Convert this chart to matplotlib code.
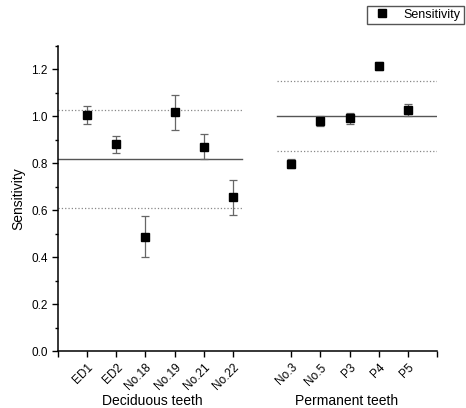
import numpy as np
import matplotlib.pyplot as plt
from matplotlib.ticker import MultipleLocator

# data
dec_labels = ['ED1', 'ED2', 'No.18', 'No.19', 'No.21', 'No.22']
dec_vals = [1.005, 0.880, 0.486, 1.016, 0.870, 0.655]
dec_err = [0.038, 0.035, 0.087, 0.075, 0.054, 0.075]

perm_labels = ['No.3', 'No.5', 'P3', 'P4', 'P5']
perm_vals = [0.798, 0.978, 0.991, 1.214, 1.026]
perm_err = [0.019, 0.022, 0.024, 0.018, 0.024]

dec_x = np.arange(1, 7)
perm_x = np.arange(8, 13)

plt.rcParams['font.family'] = ['Liberation Sans', 'DejaVu Sans']

fig = plt.figure(figsize=(4.66, 4.08), dpi=100)
ax = fig.add_axes([0.1245, 0.1397, 0.8133, 0.7483])

x_all = np.concatenate([dec_x, perm_x])
v_all = dec_vals + perm_vals
e_all = dec_err + perm_err
ax.errorbar(x_all, v_all, yerr=e_all, fmt='none', ecolor='#666666',
            elinewidth=0.9, capsize=3, capthick=0.9, zorder=2)
pts, = ax.plot(x_all, v_all, 's', color='black', markersize=6,
               linestyle='none', zorder=3, label='Sensitivity')

# mean and mean +/- SD per group
for vals, x0, x1 in [(dec_vals, 0, 6.3), (perm_vals, 7.5, 13)]:
    m = np.mean(vals)
    sd = np.std(vals, ddof=1)
    ax.plot([x0, x1], [m, m], color='#555555', lw=1, zorder=1)
    ax.plot([x0, x1], [m + sd, m + sd], color='#888888', lw=0.9, ls=':', zorder=1)
    ax.plot([x0, x1], [m - sd, m - sd], color='#888888', lw=0.9, ls=':', zorder=1)

ax.set_xlim(0, 13)
ax.set_ylim(0, 1.3)
ax.set_xticks(list(range(0, 7)) + list(range(8, 14)))
ax.set_xticklabels([''] + dec_labels + perm_labels + [''], rotation=45,
                   ha='right', va='top', rotation_mode='anchor', fontsize=8.5)
ax.set_yticks(np.arange(0, 1.21, 0.2))
ax.set_yticklabels(['%.1f' % v for v in np.arange(0, 1.21, 0.2)], fontsize=8.5)
ax.yaxis.set_minor_locator(MultipleLocator(0.1))
ax.tick_params(direction='out', length=4, width=1)
ax.tick_params(which='minor', direction='out', length=2.5, width=1)
ax.spines['top'].set_visible(False)
ax.spines['right'].set_visible(False)
ax.spines['left'].set_linewidth(1.1)
ax.spines['bottom'].set_linewidth(1.1)
ax.set_ylabel('Sensitivity', fontsize=10, labelpad=4)

ax.text(3.25, -0.215, 'Deciduous teeth', ha='center', va='center', fontsize=10)
ax.text(9.9, -0.215, 'Permanent teeth', ha='center', va='center', fontsize=10)

fig.legend(handles=[pts], loc='upper right', bbox_to_anchor=(0.995, 0.986),
           fancybox=False, edgecolor='#555555', framealpha=1, fontsize=9,
           handlelength=2.0, borderpad=0.25, handletextpad=0.7,
           borderaxespad=0.0)

plt.savefig('out.png', dpi=100)
